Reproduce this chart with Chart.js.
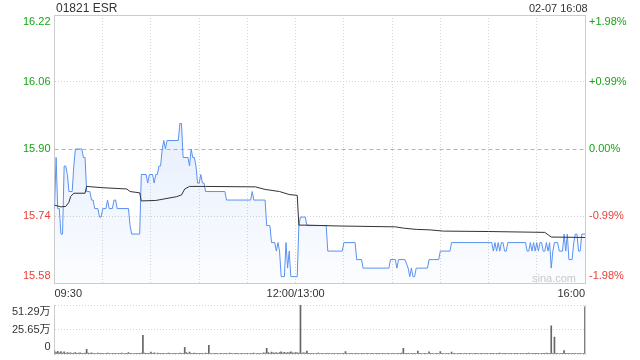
<!DOCTYPE html>
<html><head><meta charset="utf-8">
<script src="https://cdn.jsdelivr.net/npm/chart.js@4/dist/chart.umd.min.js"></script>
<style>
html,body{margin:0;padding:0;background:#fff;width:640px;height:360px;overflow:hidden;font-family:"Liberation Sans",Arial,sans-serif;}
#wrap{position:relative;width:640px;height:360px;}
#c1{position:absolute;left:0;top:0;}
#c2{position:absolute;left:0;top:300px;}
.t{position:absolute;white-space:nowrap;color:#333;}
</style></head><body>
<div id="wrap">
<canvas id="c1" width="640" height="300"></canvas>
<canvas id="c2" width="640" height="60"></canvas>
<div class="t" style="left:56px;top:2px;font-size:12px;line-height:12px;">01821 ESR</div>
<div class="t" style="left:529px;top:3px;font-size:11px;line-height:11px;">02-07 16:08</div>
<div class="t" style="left:532px;top:273px;font-size:11px;line-height:11px;color:#c8c8c8;">sina.com</div>
</div>
<script>
// ---- data ----
const prevClose = 15.90;
const priceMinutes = [0,1,2,3,4,5,6,7,8,9,11,12,13,17,18,19,20,22,23,24,25,27,28,29,30,32,33,34,36,37,38,39,46,47,48,53,54,57,58,59,61,62,63,64,65,66,67,68,69,70,77,78,79,80,83,84,85,86,87,88,89,90,91,92,93,94,106,107,122,123,124,131,132,134,135,137,138,139,140,141,143,144,145,146,147,151,152,153,156,157,169,170,179,180,187,188,191,192,208,209,212,213,214,218,220,221,222,223,224,225,232,233,239,240,246,247,272,273,274,275,276,277,278,279,280,281,282,293,294,295,296,297,298,299,300,301,302,303,304,305,306,307,308,309,310,311,313,314,316,317,318,319,320,322,323,324,325,326,327,328,330];
const prices = [15.76,15.88,15.76,15.76,15.70,15.70,15.86,15.86,15.84,15.80,15.80,15.86,15.90,15.90,15.88,15.88,15.80,15.80,15.78,15.78,15.76,15.76,15.74,15.74,15.76,15.76,15.78,15.76,15.76,15.78,15.78,15.76,15.76,15.72,15.70,15.70,15.84,15.84,15.82,15.84,15.84,15.82,15.84,15.84,15.86,15.86,15.90,15.92,15.90,15.92,15.92,15.96,15.96,15.88,15.88,15.86,15.90,15.88,15.88,15.86,15.82,15.82,15.84,15.82,15.82,15.80,15.80,15.78,15.78,15.80,15.78,15.78,15.72,15.72,15.68,15.68,15.66,15.68,15.66,15.60,15.60,15.68,15.62,15.66,15.60,15.60,15.72,15.74,15.74,15.72,15.72,15.66,15.66,15.68,15.68,15.64,15.64,15.62,15.62,15.64,15.64,15.62,15.64,15.64,15.62,15.60,15.62,15.60,15.60,15.62,15.62,15.64,15.64,15.66,15.66,15.68,15.68,15.66,15.68,15.66,15.68,15.66,15.68,15.68,15.66,15.66,15.68,15.68,15.66,15.66,15.68,15.66,15.68,15.66,15.68,15.66,15.68,15.68,15.66,15.66,15.68,15.66,15.68,15.62,15.66,15.68,15.68,15.66,15.66,15.70,15.66,15.70,15.64,15.64,15.68,15.70,15.70,15.66,15.66,15.70,15.70];
const avgMinutes = [0,4,7,9,10,12,19,20,30,45,47,53,54,63,76,79,81,84,94,125,131,140,146,151,152,157,177,212,217,225,233,242,270,305,309,330];
const avgPrices = [15.768,15.764,15.765,15.775,15.788,15.796,15.796,15.812,15.809,15.806,15.800,15.797,15.778,15.779,15.788,15.792,15.806,15.812,15.812,15.811,15.805,15.800,15.793,15.791,15.721,15.721,15.719,15.717,15.714,15.711,15.710,15.707,15.706,15.704,15.693,15.692];
// volume per minute, in 万 shares
const volumes = [
3.2,1.5,2.8,1.2,2.5,1.0,2.2,0.8,1.5,0.9,
1.2,0.8,1.0,1.6,0.7,0.9,1.1,0.6,0.8,1.0,
5.0,0.9,0.7,1.2,0.6,0.8,0.5,0.9,0.7,0.6,
0.8,0.5,0.7,0.9,0.6,0.5,0.8,0.7,0.6,0.5,
0.7,0.6,0.9,0.5,0.6,0.8,1.5,0.7,0.6,0.5,
0.6,0.7,0.8,0.6,1.0,19.6,0.9,0.7,0.6,0.8,
2.0,0.6,1.2,0.5,0.9,0.6,0.7,0.8,0.6,0.5,
0.7,0.9,0.6,0.5,0.8,0.6,0.7,0.5,0.9,0.6,
0.8,7.0,1.5,0.7,2.0,0.8,0.6,0.9,0.7,0.6,
0.8,0.6,0.7,0.5,0.9,0.6,9.0,0.6,0.5,0.8,
0.6,0.7,0.5,0.6,0.8,0.5,0.7,0.6,0.5,0.9,
0.6,0.5,0.7,0.6,0.8,0.5,0.6,0.7,0.5,0.6,
0.7,0.5,0.8,0.6,0.9,0.5,0.7,0.6,0.8,0.5,
1.2,0.9,6.0,1.5,0.8,2.0,1.2,0.9,1.6,0.8,
1.4,2.2,1.0,1.8,0.9,1.5,1.1,2.4,1.3,0.9,
1.5,1.2,0.9,51.29,1.0,1.2,0.9,3.0,0.7,0.6,
0.8,0.7,0.5,0.6,0.9,0.5,0.7,0.6,0.5,0.8,
0.6,0.7,0.5,0.6,0.8,0.5,0.6,0.7,0.5,0.6,
0.6,2.5,0.7,0.5,0.8,0.6,0.5,0.7,0.6,0.8,
0.5,0.6,0.7,0.5,0.6,0.8,0.5,0.7,0.6,0.5,
0.7,0.6,0.8,0.5,0.6,0.7,0.5,0.6,0.8,0.5,
0.7,0.6,0.5,0.8,0.6,0.7,0.9,6.0,0.8,0.6,
0.7,0.5,0.8,0.6,0.7,0.5,3.0,0.6,0.7,0.5,
0.6,0.8,0.5,2.2,0.6,0.7,0.5,0.6,0.8,0.5,
2.5,0.6,0.7,0.5,0.8,0.6,0.5,2.0,0.7,0.6,
0.5,0.8,0.6,0.7,0.5,0.6,0.8,0.5,0.7,0.6,
0.5,0.8,0.6,0.7,0.5,0.6,0.8,0.5,0.7,0.6,
0.5,0.7,0.6,0.8,0.5,0.7,0.6,0.9,0.5,0.7,
0.6,0.8,0.5,0.7,0.6,0.5,0.8,0.6,0.7,0.5,
0.6,0.8,0.5,0.7,0.6,0.9,0.5,0.7,0.6,0.8,
0.6,0.7,0.5,0.8,0.6,0.7,0.9,0.6,0.8,29.4,
0.7,17.8,0.6,0.8,0.5,0.7,0.6,3.5,0.8,0.6,
0.7,0.5,0.8,0.6,0.7,0.5,0.6,0.8,0.5,0.7,
49.5];
const priceTickValues = [15.585, 15.7425, 15.90, 16.0575, 16.215];
const priceTickLabels = ['15.58','15.74','15.90','16.06','16.22'];
const pctTickLabels = ['-1.98%','-0.99%','0.00%','+0.99%','+1.98%'];
const gridMinutes = [0,30,60,90,120,150,180,210,240,270,300,330];
const timeTickMinutes = [0,150,330];
const timeTickLabels = ['09:30','12:00/13:00','16:00'];
const volTickValues = [0, 25.645, 51.29];
const volTickLabels = ['0','25.65万','51.29万'];

// ---- styles ----
const FONT = '"Liberation Sans", Arial, "Noto Sans CJK SC", sans-serif';
Chart.defaults.font.family = FONT;
Chart.defaults.font.size = 11;
const GREEN = '#17a417', RED = '#e8403a', GRID = '#d4d4d4', FRAME = '#cccccc', NONE = 'rgba(0,0,0,0)';
const LEFT_W = 54.5, RIGHT_W = 55;

function edgeLabel(text, i, n) {
  if (i === 0) return [text, ''];
  if (i === n - 1) return ['', text];
  return text;
}
function fixV(w) {
  return (s) => { s.width = w; s.paddingTop = 0; s.paddingBottom = 0; };
}
function fixH(h) {
  return (s) => { s.height = h; s.paddingLeft = 0; s.paddingRight = 0; };
}

new Chart(document.getElementById('c1'), {
  type: 'line',
  data: {
    datasets: [
      {
        data: avgMinutes.map((m, i) => ({x: m, y: avgPrices[i]})),
        borderColor: '#333', borderWidth: 1, pointRadius: 0, fill: false, tension: 0
      },
      {
        data: priceMinutes.map((m, i) => ({x: m, y: prices[i]})),
        borderColor: '#5a92f0', borderWidth: 1, pointRadius: 0, tension: 0,
        fill: 'start',
        backgroundColor: (ctx) => {
          const a = ctx.chart.chartArea;
          if (!a) return NONE;
          const g = ctx.chart.ctx.createLinearGradient(0, a.top, 0, a.bottom);
          g.addColorStop(0, 'rgba(90,146,240,0.24)');
          g.addColorStop(1, 'rgba(90,146,240,0.02)');
          return g;
        }
      }
    ]
  },
  options: {
    responsive: false, animation: false, events: [],
    layout: {padding: {top: 15, left: 0, right: 0, bottom: 0}},
    plugins: {legend: {display: false}, tooltip: {enabled: false}},
    scales: {
      x: {
        type: 'linear', position: 'bottom', min: 0, max: 330,
        afterBuildTicks: (s) => { s.ticks = gridMinutes.map(v => ({value: v})); },
        afterFit: fixH(17),
        ticks: {
          autoSkip: false, maxRotation: 0, align: 'inner', padding: 4, color: '#333',
          callback: (v) => { const k = timeTickMinutes.indexOf(v); return k >= 0 ? timeTickLabels[k] : ''; }
        },
        grid: {drawTicks: false, lineWidth: 1,
          color: (c) => (c.tick && (c.tick.value === 0 || c.tick.value === 330)) ? NONE : GRID},
        border: {display: true, color: FRAME, dash: [1, 2]}
      },
      xTop: {
        type: 'linear', position: 'top', min: 0, max: 330,
        afterFit: fixH(0),
        ticks: {display: false}, grid: {display: false},
        border: {display: true, color: FRAME}
      },
      y: {
        type: 'linear', position: 'left', min: 15.585, max: 16.215,
        afterBuildTicks: (s) => { s.ticks = priceTickValues.map(v => ({value: v})); },
        afterFit: fixV(LEFT_W),
        ticks: {
          autoSkip: false, padding: 4,
          color: (c) => (c.tick && c.tick.value >= prevClose) ? GREEN : RED,
          callback: (v, i, t) => edgeLabel(priceTickLabels[i], i, t.length)
        },
        grid: {drawTicks: false,
          color: (c) => (c.tick && (c.index === 1 || c.index === 3)) ? GRID : NONE},
        border: {display: true, color: FRAME, dash: [1, 2]}
      },
      yPct: {
        type: 'linear', position: 'right', min: 15.585, max: 16.215,
        afterBuildTicks: (s) => { s.ticks = priceTickValues.map(v => ({value: v})); },
        afterFit: fixV(RIGHT_W),
        ticks: {
          autoSkip: false, padding: 4,
          color: (c) => (c.tick && c.tick.value >= prevClose) ? GREEN : RED,
          callback: (v, i, t) => edgeLabel(pctTickLabels[i], i, t.length)
        },
        grid: {drawTicks: false,
          color: (c) => (c.tick && c.index === 2) ? '#f5a36a' : NONE},
        border: {display: true, color: FRAME, dash: [4, 3]}
      }
    }
  }
});

new Chart(document.getElementById('c2'), {
  type: 'bar',
  data: {
    datasets: [{
      data: volumes.map((v, i) => ({x: i, y: v})),
      backgroundColor: '#666', barThickness: 1, borderWidth: 0
    }]
  },
  options: {
    responsive: false, animation: false, events: [],
    layout: {padding: {top: 5, left: 0, right: 0, bottom: 0}},
    plugins: {legend: {display: false}, tooltip: {enabled: false}},
    scales: {
      x: {
        type: 'linear', min: 0, max: 330, offset: false,
        afterFit: fixH(6),
        ticks: {display: false}, grid: {display: false, offset: false},
        border: {display: false}
      },
      y: {
        type: 'linear', position: 'left', min: 0, max: 51.29,
        afterBuildTicks: (s) => { s.ticks = volTickValues.map(v => ({value: v})); },
        afterFit: fixV(LEFT_W),
        ticks: {
          autoSkip: false, padding: 4, color: '#333',
          callback: (v, i, t) => edgeLabel(volTickLabels[i], i, t.length)
        },
        grid: {drawTicks: false, color: GRID},
        border: {display: true, color: FRAME, dash: [1, 2]}
      },
      yR: {
        type: 'linear', position: 'right', min: 0, max: 51.29,
        afterFit: fixV(RIGHT_W),
        ticks: {display: false}, grid: {display: false},
        border: {display: true, color: FRAME}
      }
    }
  }
});
</script>
</body></html>
